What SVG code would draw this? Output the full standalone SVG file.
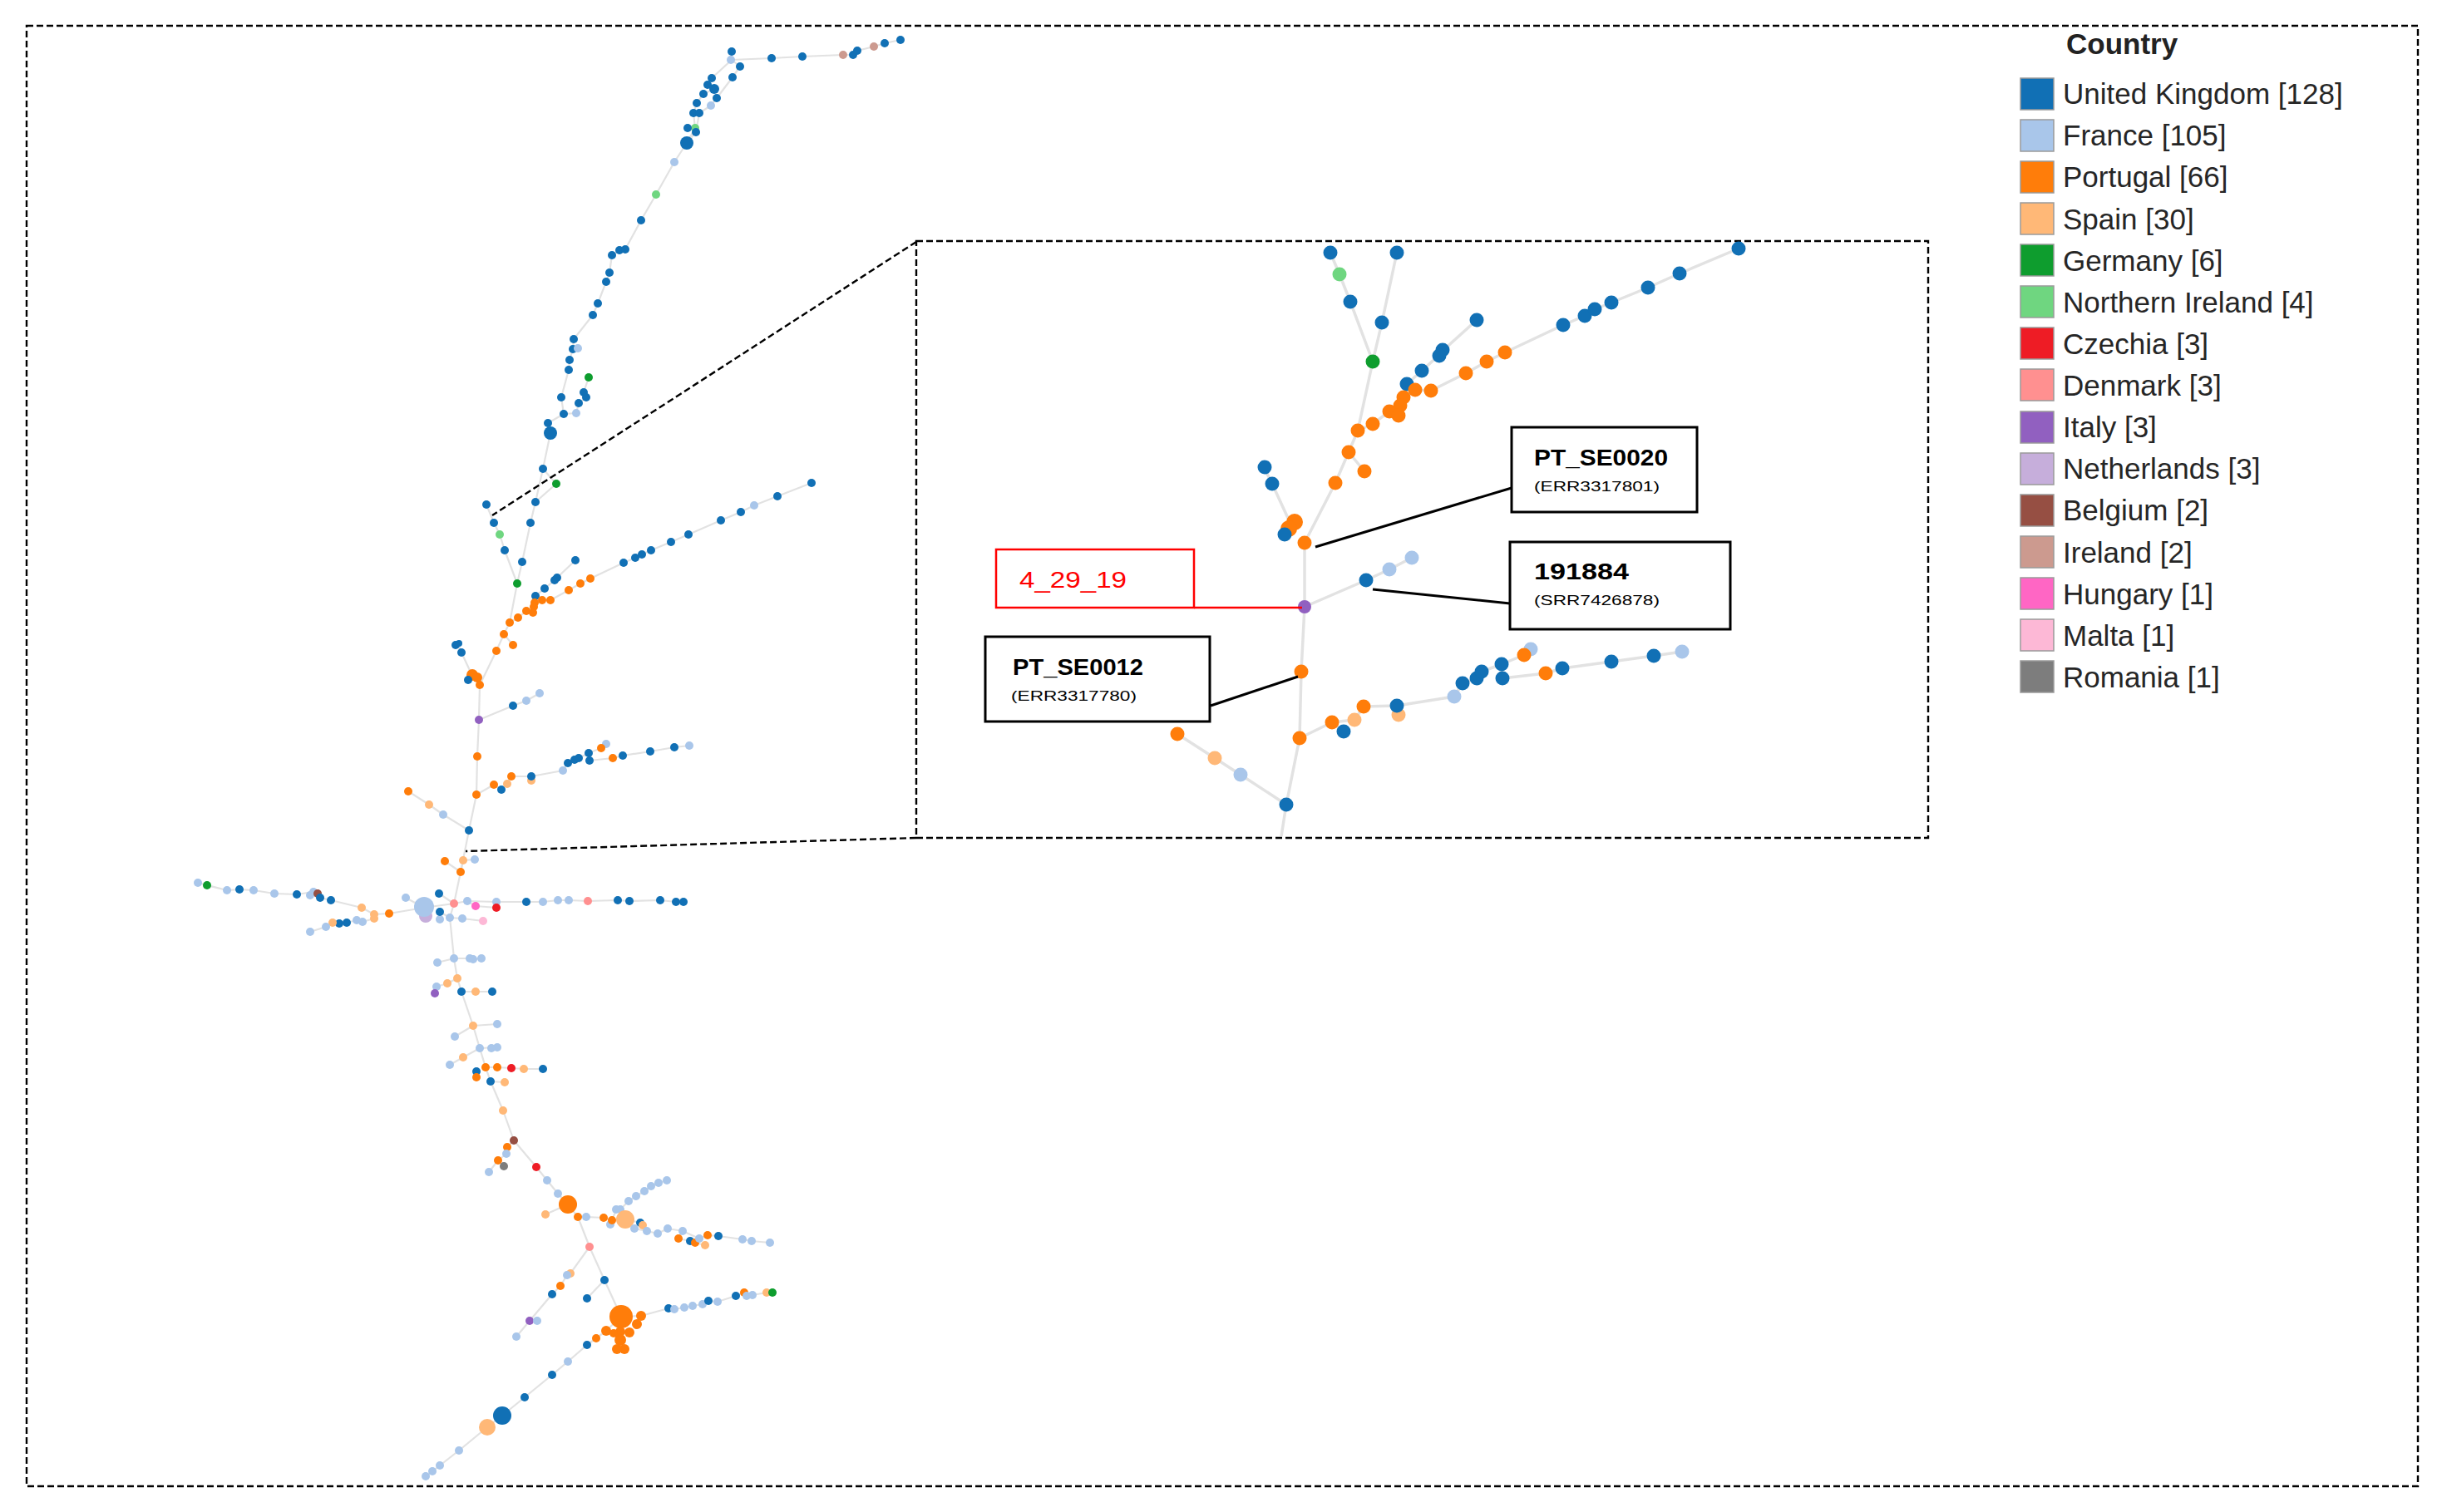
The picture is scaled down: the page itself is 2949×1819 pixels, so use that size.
<svg xmlns="http://www.w3.org/2000/svg" width="2949" height="1819" viewBox="0 0 2949 1819">
<style>
.uk{fill:#1170b5}.fr{fill:#a9c6ea}.pt{fill:#ff7d0a}.es{fill:#ffb877}.de{fill:#0e9d2e}.ni{fill:#6fd680}
.cz{fill:#ee1c25}.dk{fill:#ff9090}.it{fill:#9160c0}.nl{fill:#c6aedb}.be{fill:#964f43}.ie{fill:#cc9a8f}
.hu{fill:#ff66c4}.mt{fill:#fdb8d6}.ro{fill:#7d7d7d}
.e{fill:none;stroke:#e2e2e2;stroke-width:2.2;stroke-linejoin:round}
.ei{fill:none;stroke:#e2e2e2;stroke-width:3.5;stroke-linejoin:round}
.dash{fill:none;stroke:#000;stroke-width:2.4;stroke-dasharray:8 4}
.box{fill:#fff;stroke:#000;stroke-width:3}
.lead{stroke:#000;stroke-width:3;fill:none}
.sw{stroke:#9a9a9a;stroke-width:1.5}
.lt{font-family:"Liberation Sans",Arial,sans-serif;font-size:35px;fill:#262626}
.lb{font-family:"Liberation Sans",Arial,sans-serif;font-weight:bold;font-size:28px;fill:#000}
.ls{font-family:"Liberation Sans",Arial,sans-serif;font-size:17px;fill:#000}
</style>
<rect width="2949" height="1819" fill="#fff"/>
<rect class="dash" x="32" y="31" width="2876" height="1757"/>

<g id="connectors">
<polyline class="e" points="880,62 880,72 928,70 965,68 1014,66 1026,66 1031,61 1051,56 1064,52 1083,48"/>
<polyline class="e" points="880,72 890,80 881,93 862,118"/>
<polyline class="e" points="880,72 856,94 851,102 859,107 846,113 838,124 834,136 836,154 826,172"/>
<polyline class="e" points="862,118 855,127 841,136 837,159 826,172"/>
<polyline class="e" points="826,172 811,195 789,234 771,265 752,300 745,301 736,307 733,328 729,339 719,365 713,379 690,408 689,420 685,433 684,445 675,478 678,498 659,509 662,521 653,564 644,604 638,629 628,676 622,702"/>
<polyline class="e" points="678,498 693,497 696,485 705,478 702,472 708,454"/>
<polyline class="e" points="653,564 669,582 644,604"/>
<polyline class="e" points="585,607 594,629 601,643 607,662 622,702"/>
<polyline class="e" points="622,702 613,749 606,763 597,783 577,824 576,866"/>
<polyline class="e" points="613,749 623,743 633,735 641,730 643,725 652,722 662,722 684,710 698,702 710,696 750,677 764,671 772,667 783,662 807,652 828,643 867,626 891,616 907,608 935,597 976,581"/>
<polyline class="e" points="643,725 644,717 655,708 667,698 670,695 692,674"/>
<polyline class="e" points="606,763 617,776"/>
<polyline class="e" points="547,775 550,773 555,785 568,813 577,824"/>
<polyline class="e" points="576,866 574,910 573,956 564,999"/>
<polyline class="e" points="576,866 617,849 633,843 649,834"/>
<polyline class="e" points="573,956 594,944 603,950 610,943 615,934 639,934 677,927 683,918 691,914 696,912 708,906 723,900 729,895"/>
<polyline class="e" points="708,906 709,915 737,912 749,909 782,904 811,899 829,897"/>
<polyline class="e" points="491,952 516,968 533,980 564,999"/>
<polyline class="e" points="564,999 554,1049 546,1087"/>
<polyline class="e" points="535,1036 554,1049 557,1035 571,1034"/>
<polyline class="e" points="546,1087 528,1075"/>
<polyline class="e" points="546,1087 562,1084 597,1085 633,1085 653,1085 671,1083 684,1083 707,1084 743,1083 757,1084 794,1083 813,1085 822,1085"/>
<polyline class="e" points="562,1084 572,1090 597,1092"/>
<polyline class="e" points="546,1087 510,1092 488,1080"/>
<polyline class="e" points="510,1092 468,1099 450,1100 435,1092 398,1083 385,1080 382,1075 377,1073 357,1076 330,1075 305,1071 288,1070 273,1071 249,1065 238,1062"/>
<polyline class="e" points="450,1100 450,1105 436,1109 429,1107 417,1110 408,1111 400,1110 392,1115 373,1121"/>
<polyline class="e" points="529,1097 541,1104 556,1105 581,1108"/>
<polyline class="e" points="546,1087 541,1104 546,1153 550,1177 555,1193 569,1234 577,1261 584,1284 590,1301 605,1336 618,1372 645,1404 658,1420 671,1436 683,1449"/>
<polyline class="e" points="526,1158 546,1153 565,1153 568,1154 579,1153"/>
<polyline class="e" points="550,1177 538,1183 525,1187 523,1195"/>
<polyline class="e" points="555,1193 572,1193 592,1193"/>
<polyline class="e" points="547,1247 569,1234 598,1232"/>
<polyline class="e" points="598,1260 577,1261 557,1272 541,1281"/>
<polyline class="e" points="584,1284 598,1284 615,1285 630,1286 653,1286"/>
<polyline class="e" points="590,1301 607,1302"/>
<polyline class="e" points="618,1372 610,1380 609,1388 599,1396 606,1403"/>
<polyline class="e" points="599,1396 588,1410"/>
<polyline class="e" points="683,1449 656,1461"/>
<polyline class="e" points="683,1449 695,1464 705,1464 726,1465 736,1468 752,1467 770,1471 773,1474"/>
<polyline class="e" points="752,1467 763,1478 778,1481 791,1484 803,1478 821,1481 841,1490 851,1486 864,1487 893,1491 904,1493 926,1495"/>
<polyline class="e" points="821,1481 816,1490 830,1493 836,1495 848,1498"/>
<polyline class="e" points="736,1468 741,1456 746,1455 756,1445 765,1439 775,1433 783,1427 792,1423 802,1420"/>
<polyline class="e" points="695,1464 709,1500 727,1540 747,1584"/>
<polyline class="e" points="709,1500 686,1532 682,1534 674,1547 664,1557 637,1589 646,1589"/>
<polyline class="e" points="637,1589 621,1608"/>
<polyline class="e" points="727,1540 706,1562"/>
<polyline class="e" points="747,1584 771,1583 804,1574 811,1575 823,1573 833,1571 845,1569 852,1565 863,1566 885,1559 895,1555 898,1559 905,1558 922,1555 929,1555"/>
<polyline class="e" points="747,1584 729,1601 717,1610 706,1618 683,1638 664,1654 631,1681 604,1703 586,1717 552,1745 529,1763 520,1770 512,1776"/>
</g>

<g id="tree-top">
<circle id="t1" class="uk" cx="880" cy="62" r="5"/><circle id="t2" class="fr" cx="879" cy="72" r="5"/><circle id="t3" class="uk" cx="890" cy="80" r="5"/>
<circle id="t4" class="uk" cx="928" cy="70" r="5"/><circle id="t5" class="uk" cx="965" cy="68" r="5"/><circle id="t6" class="ie" cx="1014" cy="66" r="5"/>
<circle id="t7" class="uk" cx="1026" cy="66" r="5"/><circle id="t8" class="uk" cx="1031" cy="61" r="5"/><circle id="t9" class="ie" cx="1051" cy="56" r="5"/>
<circle id="t10" class="uk" cx="1064" cy="52" r="5"/><circle id="t11" class="uk" cx="1083" cy="48" r="5"/><circle id="t12" class="uk" cx="881" cy="93" r="5"/>
<circle id="t13" class="uk" cx="856" cy="94" r="5"/><circle id="t14" class="uk" cx="851" cy="102" r="5"/><circle id="t15" class="uk" cx="859" cy="107" r="6"/>
<circle id="t16" class="uk" cx="846" cy="113" r="5"/><circle id="t17" class="uk" cx="862" cy="118" r="5"/><circle id="t18" class="fr" cx="855" cy="127" r="5"/>
<circle id="t19" class="uk" cx="838" cy="124" r="5"/><circle id="t20" class="uk" cx="834" cy="136" r="5"/><circle id="t21" class="uk" cx="841" cy="136" r="5"/>
<circle id="t22" class="ni" cx="836" cy="154" r="5"/><circle id="t23" class="uk" cx="827" cy="154" r="5"/><circle id="t24" class="uk" cx="837" cy="159" r="5"/>
<circle id="t25" class="uk" cx="826" cy="172" r="8"/><circle id="t26" class="fr" cx="811" cy="195" r="5"/><circle id="t27" class="ni" cx="789" cy="234" r="5"/>
<circle id="t28" class="uk" cx="771" cy="265" r="5"/><circle id="t29" class="uk" cx="736" cy="307" r="5"/><circle id="t30" class="uk" cx="745" cy="301" r="5"/>
<circle id="t31" class="uk" cx="752" cy="300" r="5"/><circle id="t32" class="uk" cx="733" cy="328" r="5"/><circle id="t33" class="uk" cx="729" cy="339" r="5"/>
<circle id="t34" class="uk" cx="719" cy="365" r="5"/><circle id="t35" class="uk" cx="713" cy="379" r="5"/><circle id="t36" class="uk" cx="690" cy="408" r="5"/>
<circle id="t37" class="uk" cx="689" cy="420" r="5"/><circle id="t38" class="fr" cx="695" cy="419" r="5"/><circle id="t39" class="uk" cx="685" cy="433" r="5"/>
<circle id="t40" class="uk" cx="684" cy="445" r="5"/><circle id="t41" class="de" cx="708" cy="454" r="5"/><circle id="t42" class="uk" cx="675" cy="478" r="5"/>
<circle id="t43" class="uk" cx="702" cy="472" r="5"/><circle id="t44" class="uk" cx="705" cy="478" r="5"/><circle id="t45" class="uk" cx="696" cy="485" r="5"/>
<circle id="t46" class="fr" cx="693" cy="497" r="5"/><circle id="t47" class="uk" cx="678" cy="498" r="5"/><circle id="t48" class="uk" cx="659" cy="509" r="5"/>
<circle id="t49" class="uk" cx="662" cy="521" r="8"/><circle id="t50" class="uk" cx="653" cy="564" r="5"/><circle id="t51" class="de" cx="669" cy="582" r="5"/>
<circle id="t52" class="uk" cx="644" cy="604" r="5"/><circle id="t53" class="uk" cx="638" cy="629" r="5"/><circle id="t54" class="uk" cx="585" cy="607" r="5"/>
<circle id="t55" class="uk" cx="594" cy="629" r="5"/><circle id="t56" class="ni" cx="601" cy="643" r="5"/><circle id="t57" class="uk" cx="607" cy="662" r="5"/>
<circle id="t58" class="uk" cx="628" cy="676" r="5"/><circle id="t59" class="de" cx="622" cy="702" r="5"/><circle id="t60" class="uk" cx="692" cy="674" r="5"/>
<circle id="t61" class="uk" cx="670" cy="695" r="5"/><circle id="t62" class="uk" cx="667" cy="698" r="5"/><circle id="t63" class="uk" cx="655" cy="708" r="5"/>
<circle id="t64" class="uk" cx="644" cy="717" r="5"/>
</g>
<g id="tree-mid">
<circle id="o1" class="pt" cx="643" cy="725" r="5"/><circle id="o2" class="pt" cx="652" cy="722" r="5"/><circle id="o3" class="pt" cx="662" cy="722" r="5"/>
<circle id="o4" class="pt" cx="642" cy="730" r="5"/><circle id="o5" class="pt" cx="633" cy="735" r="5"/><circle id="o6" class="pt" cx="641" cy="737" r="5"/>
<circle id="o7" class="pt" cx="623" cy="743" r="5"/><circle id="o8" class="pt" cx="613" cy="749" r="5"/><circle id="o9" class="pt" cx="606" cy="763" r="5"/>
<circle id="o10" class="pt" cx="617" cy="776" r="5"/><circle id="o11" class="pt" cx="597" cy="783" r="5"/><circle id="o12" class="pt" cx="684" cy="710" r="5"/>
<circle id="o13" class="pt" cx="698" cy="702" r="5"/><circle id="o14" class="pt" cx="710" cy="696" r="5"/>
<circle id="b1" class="uk" cx="750" cy="677" r="5"/><circle id="b2" class="uk" cx="764" cy="671" r="5"/><circle id="b3" class="uk" cx="772" cy="667" r="5"/>
<circle id="b4" class="uk" cx="783" cy="662" r="5"/><circle id="b5" class="uk" cx="807" cy="652" r="5"/><circle id="b6" class="uk" cx="828" cy="643" r="5"/>
<circle id="b7" class="uk" cx="867" cy="626" r="5"/><circle id="b8" class="uk" cx="891" cy="616" r="5"/><circle id="b9" class="fr" cx="907" cy="608" r="5"/>
<circle id="b10" class="uk" cx="935" cy="597" r="5"/><circle id="b11" class="uk" cx="976" cy="581" r="5"/>
<circle id="c1" class="uk" cx="548" cy="776" r="5"/><path d="M543,772 a6,6 0 0 1 9,-1" stroke="#fff" stroke-width="1.8" fill="none"/>
<circle id="c2" class="uk" cx="552" cy="774" r="4"/><circle id="c3" class="uk" cx="555" cy="785" r="5"/>
<circle id="c4" class="pt" cx="568" cy="812" r="7"/><circle id="c5" class="pt" cx="574" cy="815" r="6"/><circle id="c6" class="uk" cx="563" cy="818" r="5"/>
<circle id="c7" class="pt" cx="577" cy="824" r="5"/>
<circle id="p1" class="it" cx="576" cy="866" r="5"/>
<circle id="b12" class="uk" cx="617" cy="849" r="5"/><circle id="b13" class="fr" cx="633" cy="843" r="5"/><circle id="b14" class="fr" cx="649" cy="834" r="5"/>
<circle id="o15" class="pt" cx="574" cy="910" r="5"/><circle id="o16" class="pt" cx="573" cy="956" r="5"/>
<circle id="r1" class="pt" cx="594" cy="944" r="5"/><circle id="r2" class="uk" cx="603" cy="950" r="5"/><circle id="r3" class="es" cx="610" cy="943" r="5"/>
<circle id="r4" class="pt" cx="615" cy="934" r="5"/><circle id="r6" class="es" cx="639" cy="939" r="5"/><circle id="r5" class="uk" cx="639" cy="934" r="5"/>
<circle id="r7" class="fr" cx="677" cy="927" r="5"/><circle id="r8" class="uk" cx="683" cy="918" r="5"/><circle id="r9" class="uk" cx="691" cy="914" r="5"/>
<circle id="r10" class="uk" cx="696" cy="912" r="5"/><circle id="r11" class="uk" cx="708" cy="906" r="5"/><circle id="r12" class="uk" cx="709" cy="915" r="5"/>
<circle id="r14" class="fr" cx="729" cy="895" r="5"/><circle id="r13" class="pt" cx="723" cy="900" r="5"/><circle id="r15" class="pt" cx="737" cy="912" r="5"/>
<circle id="r16" class="uk" cx="749" cy="909" r="5"/><circle id="r17" class="uk" cx="782" cy="904" r="5"/><circle id="r18" class="uk" cx="811" cy="899" r="5"/>
<circle id="r19" class="fr" cx="829" cy="897" r="5"/>
<circle id="l1" class="pt" cx="491" cy="952" r="5"/><circle id="l2" class="es" cx="516" cy="968" r="5"/><circle id="l3" class="fr" cx="533" cy="980" r="5"/>
<circle id="u1" class="uk" cx="564" cy="999" r="5"/>
</g>
<g id="tree-low">
<circle id="s1" class="pt" cx="535" cy="1036" r="5"/><circle id="s2" class="es" cx="557" cy="1035" r="5"/><circle id="s3" class="fr" cx="571" cy="1034" r="5"/>
<circle id="s4" class="pt" cx="554" cy="1049" r="5"/>
<circle id="m1" class="uk" cx="528" cy="1075" r="5"/><circle id="m2" class="fr" cx="488" cy="1080" r="5"/>
<circle id="m3" class="nl" cx="512" cy="1102" r="8"/><circle id="mbig" class="fr" cx="510" cy="1091" r="12"/>
<circle id="m13" class="fr" cx="529" cy="1106" r="5"/><circle id="m4" class="uk" cx="529" cy="1097" r="5"/><circle id="m5" class="dk" cx="546" cy="1087" r="5"/>
<circle id="m6" class="fr" cx="562" cy="1084" r="5"/><circle id="m7" class="hu" cx="572" cy="1090" r="5"/><circle id="m9" class="fr" cx="597" cy="1085" r="5"/>
<circle id="m8" class="cz" cx="597" cy="1092" r="5"/><circle id="m10" class="fr" cx="541" cy="1104" r="5"/><circle id="m11" class="fr" cx="556" cy="1105" r="5"/>
<circle id="m12" class="mt" cx="581" cy="1108" r="5"/>
<circle id="h1" class="uk" cx="633" cy="1085" r="5"/><circle id="h2" class="fr" cx="653" cy="1085" r="5"/><circle id="h3" class="fr" cx="671" cy="1083" r="5"/>
<circle id="h4" class="fr" cx="684" cy="1083" r="5"/><circle id="h5" class="dk" cx="707" cy="1084" r="5"/><circle id="h6" class="uk" cx="743" cy="1083" r="5"/>
<circle id="h7" class="uk" cx="757" cy="1084" r="5"/><circle id="h8" class="uk" cx="794" cy="1083" r="5"/><circle id="h9" class="uk" cx="813" cy="1085" r="5"/>
<circle id="h10" class="uk" cx="822" cy="1085" r="5"/>
<circle id="a1" class="pt" cx="468" cy="1099" r="5"/><circle id="a2" class="es" cx="450" cy="1100" r="5"/><circle id="a3" class="es" cx="450" cy="1105" r="5"/>
<circle id="a4" class="es" cx="435" cy="1092" r="5"/><circle id="a5" class="fr" cx="429" cy="1107" r="5"/><circle id="a6" class="fr" cx="436" cy="1109" r="5"/>
<circle id="a7" class="uk" cx="417" cy="1110" r="5"/><circle id="a8" class="uk" cx="408" cy="1111" r="5"/><circle id="a9" class="es" cx="400" cy="1110" r="5"/>
<circle id="a10" class="fr" cx="392" cy="1115" r="5"/><circle id="a11" class="fr" cx="373" cy="1121" r="5"/>
<circle id="a12" class="uk" cx="398" cy="1083" r="5"/><circle id="a15" class="fr" cx="377" cy="1073" r="5"/><circle id="a16" class="fr" cx="373" cy="1077" r="5"/>
<circle id="a14" class="be" cx="382" cy="1075" r="5"/><circle id="a13" class="uk" cx="385" cy="1080" r="5"/><circle id="a17" class="uk" cx="357" cy="1076" r="5"/>
<circle id="a18" class="fr" cx="330" cy="1075" r="5"/><circle id="a19" class="fr" cx="305" cy="1071" r="5"/><circle id="a20" class="uk" cx="288" cy="1070" r="5"/>
<circle id="a21" class="fr" cx="273" cy="1071" r="5"/><circle id="a22" class="de" cx="249" cy="1065" r="5"/><circle id="a23" class="fr" cx="238" cy="1062" r="5"/>
<circle id="d1" class="fr" cx="526" cy="1158" r="5"/><circle id="d2" class="fr" cx="546" cy="1153" r="5"/><circle id="d3" class="fr" cx="565" cy="1153" r="5"/>
<circle id="d4" class="fr" cx="569" cy="1154" r="5"/><circle id="d5" class="fr" cx="579" cy="1153" r="5"/>
<circle id="e1" class="es" cx="550" cy="1177" r="5"/><circle id="e2" class="es" cx="538" cy="1183" r="5"/><circle id="e3" class="fr" cx="525" cy="1187" r="5"/>
<circle id="e4" class="it" cx="523" cy="1195" r="5"/><circle id="e5" class="uk" cx="555" cy="1193" r="5"/><circle id="e6" class="es" cx="572" cy="1193" r="5"/>
<circle id="e7" class="uk" cx="592" cy="1193" r="5"/>
<circle id="f1" class="es" cx="569" cy="1234" r="5"/><circle id="f2" class="fr" cx="598" cy="1232" r="5"/><circle id="f3" class="fr" cx="547" cy="1247" r="5"/>
<circle id="f4" class="fr" cx="577" cy="1261" r="5"/><circle id="f5" class="fr" cx="598" cy="1260" r="5"/><circle id="f5b" class="fr" cx="591" cy="1261" r="5"/>
<circle id="f6" class="es" cx="557" cy="1272" r="5"/><circle id="f7" class="fr" cx="541" cy="1281" r="5"/><circle id="f8" class="pt" cx="584" cy="1284" r="5"/>
<circle id="f9" class="pt" cx="598" cy="1284" r="5"/><circle id="f10" class="cz" cx="615" cy="1285" r="5"/><circle id="f11" class="es" cx="630" cy="1286" r="5"/>
<circle id="f12" class="uk" cx="653" cy="1286" r="5"/><circle id="f13" class="uk" cx="573" cy="1289" r="5"/><circle id="f14" class="pt" cx="573" cy="1296" r="5"/>
<circle id="f15" class="uk" cx="590" cy="1301" r="5"/><circle id="f16" class="es" cx="607" cy="1302" r="5"/><circle id="f17" class="es" cx="605" cy="1336" r="5"/>
<circle id="g1" class="be" cx="618" cy="1372" r="5"/><circle id="g2" class="pt" cx="610" cy="1380" r="5"/><circle id="g3" class="fr" cx="609" cy="1388" r="5"/>
<circle id="g4" class="pt" cx="599" cy="1396" r="5"/><circle id="g5" class="ro" cx="606" cy="1403" r="5"/><circle id="g6" class="fr" cx="588" cy="1410" r="5"/>
<circle id="g7" class="cz" cx="645" cy="1404" r="5"/><circle id="g8" class="fr" cx="658" cy="1420" r="5"/><circle id="g9" class="fr" cx="671" cy="1436" r="5"/>
</g>
<g id="tree-bottom">
<circle id="B1" class="pt" cx="683" cy="1449" r="11"/><circle id="k1" class="es" cx="656" cy="1461" r="5"/><circle id="k2" class="pt" cx="695" cy="1464" r="5"/>
<circle id="k3" class="fr" cx="705" cy="1464" r="5"/><circle id="k4" class="pt" cx="726" cy="1465" r="5"/><circle id="k8" class="fr" cx="734" cy="1473" r="5"/>
<circle id="k5" class="pt" cx="736" cy="1468" r="5"/>
<circle id="q1" class="fr" cx="741" cy="1455" r="5"/><circle id="q2" class="fr" cx="746" cy="1455" r="5"/><circle id="q3" class="fr" cx="756" cy="1445" r="5"/>
<circle id="q4" class="fr" cx="765" cy="1439" r="5"/><circle id="q5" class="fr" cx="775" cy="1433" r="5"/><circle id="q6" class="fr" cx="783" cy="1427" r="5"/>
<circle id="q7" class="fr" cx="792" cy="1423" r="5"/><circle id="q8" class="fr" cx="802" cy="1420" r="5"/>
<circle id="B2" class="es" cx="752" cy="1467" r="11"/>
<circle id="k6" class="uk" cx="770" cy="1471" r="5"/><circle id="k7" class="es" cx="773" cy="1474" r="5"/><circle id="k9" class="fr" cx="763" cy="1478" r="5"/>
<circle id="k10" class="fr" cx="778" cy="1481" r="5"/><circle id="k11" class="fr" cx="791" cy="1484" r="5"/><circle id="k12" class="fr" cx="803" cy="1478" r="5"/>
<circle id="k13" class="fr" cx="821" cy="1481" r="5"/><circle id="k14" class="pt" cx="816" cy="1490" r="5"/><circle id="k15" class="uk" cx="830" cy="1493" r="5"/>
<circle id="k16" class="pt" cx="836" cy="1495" r="5"/><circle id="k17" class="es" cx="848" cy="1498" r="5"/><circle id="k18" class="fr" cx="841" cy="1490" r="5"/>
<circle id="k19" class="pt" cx="851" cy="1486" r="5"/><circle id="k20" class="uk" cx="864" cy="1487" r="5"/><circle id="k21" class="fr" cx="893" cy="1491" r="5"/>
<circle id="k22" class="fr" cx="904" cy="1493" r="5"/><circle id="k23" class="fr" cx="926" cy="1495" r="5"/>
<circle id="D" class="dk" cx="709" cy="1500" r="5"/>
<circle id="w1" class="es" cx="686" cy="1532" r="5"/><circle id="w2" class="fr" cx="682" cy="1534" r="5"/><circle id="w3" class="pt" cx="674" cy="1547" r="5"/>
<circle id="w4" class="uk" cx="664" cy="1557" r="5"/><circle id="w5" class="it" cx="637" cy="1589" r="5"/><circle id="w6" class="fr" cx="646" cy="1589" r="5"/>
<circle id="w7" class="fr" cx="621" cy="1608" r="5"/>
<circle id="x1" class="uk" cx="727" cy="1540" r="5"/><circle id="x2" class="uk" cx="706" cy="1562" r="5"/>
<circle id="y1" class="pt" cx="771" cy="1583" r="6"/><circle id="y2" class="pt" cx="766" cy="1593" r="6"/><circle id="y3" class="pt" cx="729" cy="1601" r="6"/>
<circle id="y5" class="pt" cx="757" cy="1603" r="6"/><circle id="y4" class="pt" cx="746" cy="1602" r="6"/><circle id="y6" class="pt" cx="746" cy="1612" r="7"/>
<circle id="y7" class="pt" cx="751" cy="1623" r="6"/><circle id="y8" class="pt" cx="742" cy="1623" r="6"/><circle id="y9" class="pt" cx="738" cy="1604" r="5"/>
<circle id="B3" class="pt" cx="747" cy="1584" r="14"/>
<circle id="z1" class="uk" cx="804" cy="1574" r="5"/><circle id="z2" class="fr" cx="811" cy="1575" r="5"/><circle id="z3" class="fr" cx="823" cy="1573" r="5"/>
<circle id="z4" class="fr" cx="833" cy="1571" r="5"/><circle id="z5" class="fr" cx="845" cy="1569" r="5"/><circle id="z6" class="uk" cx="852" cy="1565" r="5"/>
<circle id="z7" class="fr" cx="863" cy="1566" r="5"/><circle id="z8" class="uk" cx="885" cy="1559" r="5"/><circle id="z9" class="pt" cx="895" cy="1555" r="5"/>
<circle id="z10" class="fr" cx="898" cy="1559" r="5"/><circle id="z11" class="fr" cx="905" cy="1558" r="5"/><circle id="z12" class="es" cx="922" cy="1555" r="5"/>
<circle id="z13" class="de" cx="929" cy="1555" r="5"/>
<circle id="v1" class="pt" cx="717" cy="1610" r="5"/><circle id="v2" class="uk" cx="706" cy="1618" r="5"/><circle id="v3" class="fr" cx="683" cy="1638" r="5"/>
<circle id="v4" class="uk" cx="664" cy="1654" r="5"/><circle id="v5" class="uk" cx="631" cy="1681" r="5"/>
<circle id="B5" class="es" cx="586" cy="1717" r="10"/><circle id="B4" class="uk" cx="604" cy="1703" r="11"/>
<circle id="v6" class="fr" cx="552" cy="1745" r="5"/><circle id="v7" class="fr" cx="529" cy="1763" r="5"/><circle id="v8" class="fr" cx="520" cy="1770" r="5"/>
<circle id="v9" class="fr" cx="512" cy="1776" r="5"/>
</g>

<g id="zoom-lines">
<line class="dash" x1="1102" y1="291" x2="592" y2="620"/>
<line class="dash" x1="1102" y1="1008" x2="560" y2="1024"/>
</g>

<g id="inset">
<rect class="dash" x="1102" y="290" width="1217" height="718" fill="#fff"/>
<g id="inset-connectors">
<polyline class="ei" points="1600,304 1611,330 1624,363 1651,435 1633,518"/>
<polyline class="ei" points="1680,304 1662,388 1651,435"/>
<polyline class="ei" points="1569,653 1606,581 1622,544 1633,518 1651,510 1671,495 1684,488 1688,478 1702,469 1721,470 1763,449 1788,435 1810,424 1880,391 1906,380 1918,372 1938,364 1982,346 2020,329 2091,299"/>
<polyline class="ei" points="1688,478 1692,462 1710,446 1731,427 1735,422 1776,385"/>
<polyline class="ei" points="1622,544 1641,567"/>
<polyline class="ei" points="1520,562 1530,582 1553,632"/>
<polyline class="ei" points="1569,653 1569,730 1565,808 1563,888 1547,968 1541,1006"/>
<polyline class="ei" points="1569,730 1643,698 1671,685 1698,671"/>
<polyline class="ei" points="1563,888 1602,869 1629,866 1640,850 1680,849 1749,838 1759,822 1776,816 1782,808 1806,799 1833,788 1841,781"/>
<polyline class="ei" points="1602,869 1616,880"/>
<polyline class="ei" points="1806,799 1807,816 1859,810 1879,804 1938,796 1989,789 2023,784"/>
<polyline class="ei" points="1416,883 1461,912 1492,932 1547,968"/>
</g>
<g id="inset-nodes">
<circle id="I1" class="uk" cx="1600" cy="304" r="8.5"/><circle id="I2" class="uk" cx="1680" cy="304" r="8.5"/><circle id="I3" class="ni" cx="1611" cy="330" r="8.5"/>
<circle id="I4" class="uk" cx="1624" cy="363" r="8.5"/><circle id="I5" class="uk" cx="1662" cy="388" r="8.5"/><circle id="I6" class="de" cx="1651" cy="435" r="8.5"/>
<circle id="I7" class="uk" cx="1776" cy="385" r="8.5"/><circle id="I8" class="uk" cx="1735" cy="421" r="8.5"/><circle id="I9" class="uk" cx="1731" cy="428" r="8.5"/>
<circle id="I10" class="uk" cx="1710" cy="446" r="8.5"/><circle id="I11" class="uk" cx="1692" cy="462" r="8.5"/>
<circle id="J1" class="pt" cx="1702" cy="469" r="8.5"/><circle id="J2" class="pt" cx="1721" cy="470" r="8.5"/><circle id="J3" class="pt" cx="1688" cy="478" r="8.5"/>
<circle id="J4" class="pt" cx="1684" cy="488" r="8.5"/><circle id="J5" class="pt" cx="1671" cy="495" r="8.5"/><circle id="J6" class="pt" cx="1682" cy="500" r="8.5"/>
<circle id="J7" class="pt" cx="1651" cy="510" r="8.5"/><circle id="J8" class="pt" cx="1633" cy="518" r="8.5"/><circle id="J9" class="pt" cx="1622" cy="544" r="8.5"/>
<circle id="J10" class="pt" cx="1641" cy="567" r="8.5"/><circle id="J11" class="pt" cx="1606" cy="581" r="8.5"/><circle id="J12" class="pt" cx="1763" cy="449" r="8.5"/>
<circle id="J13" class="pt" cx="1788" cy="435" r="8.5"/><circle id="J14" class="pt" cx="1810" cy="424" r="8.5"/>
<circle id="K1" class="uk" cx="1880" cy="391" r="8.5"/><circle id="K2" class="uk" cx="1906" cy="380" r="8.5"/><circle id="K3" class="uk" cx="1918" cy="372" r="8.5"/>
<circle id="K4" class="uk" cx="1938" cy="364" r="8.5"/><circle id="K5" class="uk" cx="1982" cy="346" r="8.5"/><circle id="K6" class="uk" cx="2020" cy="329" r="8.5"/>
<circle id="K7" class="uk" cx="2091" cy="299" r="8.5"/>
<circle id="L1" class="uk" cx="1521" cy="562" r="8.5"/><path d="M1512,558 a10,10 0 0 1 14,-6" stroke="#fff" stroke-width="3" fill="none"/>
<circle id="L2" class="uk" cx="1530" cy="582" r="8.5"/>
<circle id="C0" class="pt" cx="1557" cy="628" r="10"/><circle id="C1" class="pt" cx="1550" cy="636" r="10"/><circle id="C2" class="uk" cx="1545" cy="643" r="8.5"/>
<circle id="C3" class="pt" cx="1569" cy="653" r="8.5"/>
<circle id="P" class="it" cx="1569" cy="730" r="8"/>
<circle id="M1" class="uk" cx="1643" cy="698" r="8.5"/><circle id="M2" class="fr" cx="1671" cy="685" r="8.5"/><circle id="M3" class="fr" cx="1698" cy="671" r="8.5"/>
<circle id="N1" class="pt" cx="1565" cy="808" r="8.5"/><circle id="N2" class="pt" cx="1563" cy="888" r="8.5"/>
<circle id="R1" class="pt" cx="1602" cy="869" r="8.5"/><circle id="R2" class="es" cx="1629" cy="866" r="8.5"/><circle id="R3" class="pt" cx="1640" cy="850" r="8.5"/>
<circle id="R4" class="uk" cx="1616" cy="880" r="8.5"/><circle id="R6" class="es" cx="1682" cy="860" r="8.5"/><circle id="R5" class="uk" cx="1680" cy="849" r="8.5"/>
<circle id="R7" class="fr" cx="1749" cy="838" r="8.5"/><circle id="R8" class="uk" cx="1759" cy="822" r="8.5"/><circle id="R9" class="uk" cx="1776" cy="816" r="8.5"/>
<circle id="R10" class="uk" cx="1782" cy="808" r="8.5"/><circle id="R11" class="uk" cx="1806" cy="799" r="8.5"/><circle id="R12" class="uk" cx="1807" cy="816" r="8.5"/>
<circle id="R14" class="fr" cx="1841" cy="781" r="8.5"/><circle id="R13" class="pt" cx="1833" cy="788" r="8.5"/><circle id="R15" class="pt" cx="1859" cy="810" r="8.5"/>
<circle id="R16" class="uk" cx="1879" cy="804" r="8.5"/><circle id="R17" class="uk" cx="1938" cy="796" r="8.5"/><circle id="R18" class="uk" cx="1989" cy="789" r="8.5"/>
<circle id="R19" class="fr" cx="2023" cy="784" r="8.5"/>
<circle id="S1" class="pt" cx="1416" cy="883" r="8.5"/><circle id="S2" class="es" cx="1461" cy="912" r="8.5"/><circle id="S3" class="fr" cx="1492" cy="932" r="8.5"/>
<circle id="S4" class="uk" cx="1547" cy="968" r="8.5"/>
</g>
<g id="label-PT_SE0020">
<line class="lead" x1="1818" y1="587" x2="1582" y2="658"/>
<rect class="box" x="1818" y="514" width="223" height="102"/>
<text class="lb" x="1845" y="560" textLength="161" lengthAdjust="spacingAndGlyphs">PT_SE0020</text>
<text class="ls" x="1845" y="591" textLength="151" lengthAdjust="spacingAndGlyphs">(ERR3317801)</text>
</g>
<g id="label-191884">
<line class="lead" x1="1816" y1="726" x2="1651" y2="709"/>
<rect class="box" x="1816" y="652" width="265" height="105"/>
<text class="lb" x="1845" y="697" textLength="114" lengthAdjust="spacingAndGlyphs">191884</text>
<text class="ls" x="1845" y="728" textLength="151" lengthAdjust="spacingAndGlyphs">(SRR7426878)</text>
</g>
<g id="label-4_29_19">
<polyline points="1436,731 1566,731" fill="none" stroke="#ff0000" stroke-width="2.5"/>
<rect x="1198" y="661" width="238" height="70" fill="#fff" stroke="#ff0000" stroke-width="2.5"/>
<text x="1226" y="707" font-family="Liberation Sans, Arial, sans-serif" font-size="28" fill="#ff0000" textLength="129" lengthAdjust="spacingAndGlyphs">4_29_19</text>
</g>
<g id="label-PT_SE0012">
<line class="lead" x1="1456" y1="849" x2="1561" y2="814"/>
<rect class="box" x="1185" y="766" width="270" height="102"/>
<text class="lb" x="1218" y="812" textLength="157" lengthAdjust="spacingAndGlyphs">PT_SE0012</text>
<text class="ls" x="1216" y="843" textLength="151" lengthAdjust="spacingAndGlyphs">(ERR3317780)</text>
</g>
</g>

<g id="legend">
<text x="2485" y="65" font-family="Liberation Sans, Arial, sans-serif" font-weight="bold" font-size="35" fill="#222">Country</text>
<g id="leg-uk"><rect class="sw uk" x="2430" y="94" width="40" height="38"/><text class="lt" x="2481" y="125">United Kingdom [128]</text></g>
<g id="leg-fr"><rect class="sw fr" x="2430" y="144" width="40" height="38"/><text class="lt" x="2481" y="175">France [105]</text></g>
<g id="leg-pt"><rect class="sw pt" x="2430" y="194" width="40" height="38"/><text class="lt" x="2481" y="225">Portugal [66]</text></g>
<g id="leg-es"><rect class="sw es" x="2430" y="244" width="40" height="38"/><text class="lt" x="2481" y="276">Spain [30]</text></g>
<g id="leg-de"><rect class="sw de" x="2430" y="294" width="40" height="38"/><text class="lt" x="2481" y="326">Germany [6]</text></g>
<g id="leg-ni"><rect class="sw ni" x="2430" y="344" width="40" height="38"/><text class="lt" x="2481" y="376">Northern Ireland [4]</text></g>
<g id="leg-cz"><rect class="sw cz" x="2430" y="394" width="40" height="38"/><text class="lt" x="2481" y="426">Czechia [3]</text></g>
<g id="leg-dk"><rect class="sw dk" x="2430" y="444" width="40" height="38"/><text class="lt" x="2481" y="476">Denmark [3]</text></g>
<g id="leg-it"><rect class="sw it" x="2430" y="495" width="40" height="38"/><text class="lt" x="2481" y="526">Italy [3]</text></g>
<g id="leg-nl"><rect class="sw nl" x="2430" y="545" width="40" height="38"/><text class="lt" x="2481" y="576">Netherlands [3]</text></g>
<g id="leg-be"><rect class="sw be" x="2430" y="595" width="40" height="38"/><text class="lt" x="2481" y="626">Belgium [2]</text></g>
<g id="leg-ie"><rect class="sw ie" x="2430" y="645" width="40" height="38"/><text class="lt" x="2481" y="677">Ireland [2]</text></g>
<g id="leg-hu"><rect class="sw hu" x="2430" y="695" width="40" height="38"/><text class="lt" x="2481" y="727">Hungary [1]</text></g>
<g id="leg-mt"><rect class="sw mt" x="2430" y="745" width="40" height="38"/><text class="lt" x="2481" y="777">Malta [1]</text></g>
<g id="leg-ro"><rect class="sw ro" x="2430" y="795" width="40" height="38"/><text class="lt" x="2481" y="827">Romania [1]</text></g>
</g>
</svg>
